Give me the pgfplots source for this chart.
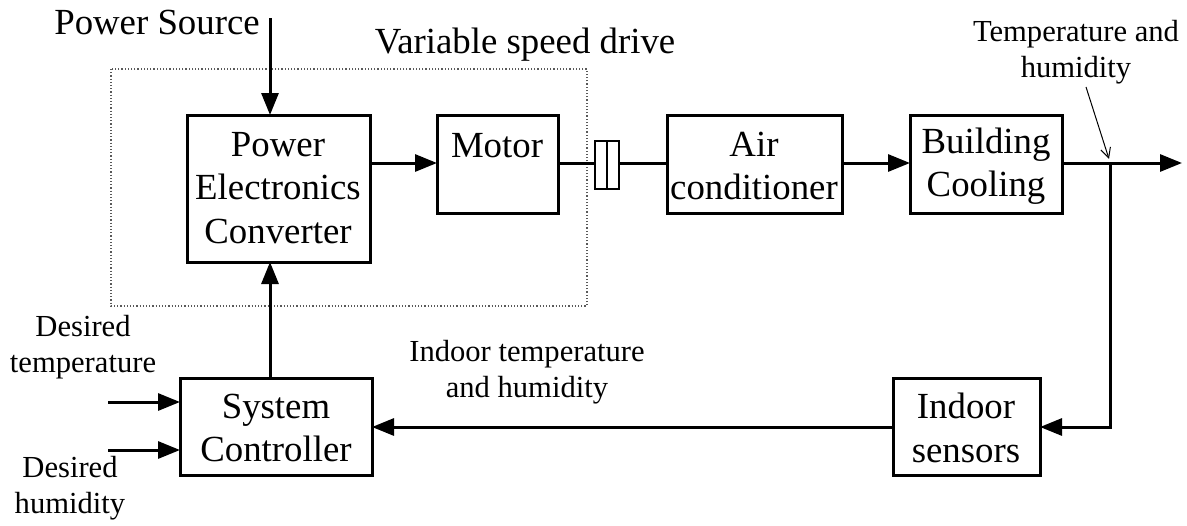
\documentclass[border=0pt]{standalone}
\usepackage{pgfplots}
\pgfplotsset{compat=1.18}
\usepackage{fontspec}
\setmainfont{Liberation Serif}
\usetikzlibrary{arrows.meta}
\begin{document}
\begin{tikzpicture}
\begin{axis}[
  width=593.5pt, height=262.5pt, scale only axis,
  xmin=0, xmax=1187, ymin=0, ymax=525, y dir=reverse,
  hide axis, clip=false,
]
\path (axis cs:0,0) rectangle (axis cs:1187,525);
\tikzset{
  blk/.style={draw, line width=1.5pt},
  big/.style={font=\fontsize{18.4}{21.8}\selectfont, align=center, inner sep=0pt},
  sm/.style={font=\fontsize{15.3}{18}\selectfont, align=center, inner sep=0pt},
  ar/.style={line width=1.5pt, -{Triangle[length=11pt,width=8.5pt]}},
  ln/.style={line width=1.5pt},
}
% dotted VSD box
\draw[gray!70!black, densely dotted, line width=0.6pt] (axis cs:111,69) rectangle (axis cs:587,306);
% blocks
\draw[blk] (axis cs:187,115) rectangle (axis cs:370,262);
\draw[blk] (axis cs:437,115) rectangle (axis cs:558,213);
\draw[blk] (axis cs:667,115) rectangle (axis cs:842,213);
\draw[blk] (axis cs:910,115) rectangle (axis cs:1062,213);
\draw[blk] (axis cs:180,378) rectangle (axis cs:372,475);
\draw[blk] (axis cs:893,378) rectangle (axis cs:1040,475);
% coupling
\draw[line width=1.3pt] (axis cs:595,141) rectangle (axis cs:619,189);
\draw[line width=1.3pt] (axis cs:607,141) -- (axis cs:607,189);
% connections
\draw[ar] (axis cs:270,18) -- (axis cs:270,115);
\draw[ar] (axis cs:370,163) -- (axis cs:437,163);
\draw[ln] (axis cs:558,163) -- (axis cs:595,163);
\draw[ln] (axis cs:619,163) -- (axis cs:667,163);
\draw[ar] (axis cs:842,163) -- (axis cs:910,163);
\draw[ar] (axis cs:1062,163) -- (axis cs:1182,163);
\draw[ar] (axis cs:1110,163) -- (axis cs:1110,427) -- (axis cs:1040,427);
\draw[ar] (axis cs:893,427) -- (axis cs:372,427);
\draw[ar] (axis cs:270,378) -- (axis cs:270,262);
\draw[ar] (axis cs:108,402) -- (axis cs:180,402);
\draw[ar] (axis cs:108,450) -- (axis cs:180,450);
\draw[line width=0.5pt, -{Straight Barb[length=5pt,width=5pt]}] (axis cs:1086,87) -- (axis cs:1109,159);
% texts
\node[big] at (axis cs:157,22) {Power Source};
\node[big] at (axis cs:525,45) {Variable speed drive};
\node[big] at (axis cs:278,188) {Power\\Electronics\\Converter};
\node[big] at (axis cs:497,146) {Motor};
\node[big] at (axis cs:754,166) {Air\\conditioner};
\node[big] at (axis cs:986,166) {Building\\Cooling};
\node[big] at (axis cs:276,428) {System\\Controller};
\node[big] at (axis cs:966,428) {Indoor\\sensors};
\node[sm] at (axis cs:1076,52) {Temperature and\\humidity};
\node[sm] at (axis cs:83,347) {Desired\\temperature};
\node[sm] at (axis cs:70,488) {Desired\\humidity};
\node[sm] at (axis cs:527,372) {Indoor temperature\\and humidity};
\end{axis}
\end{tikzpicture}
\end{document}
